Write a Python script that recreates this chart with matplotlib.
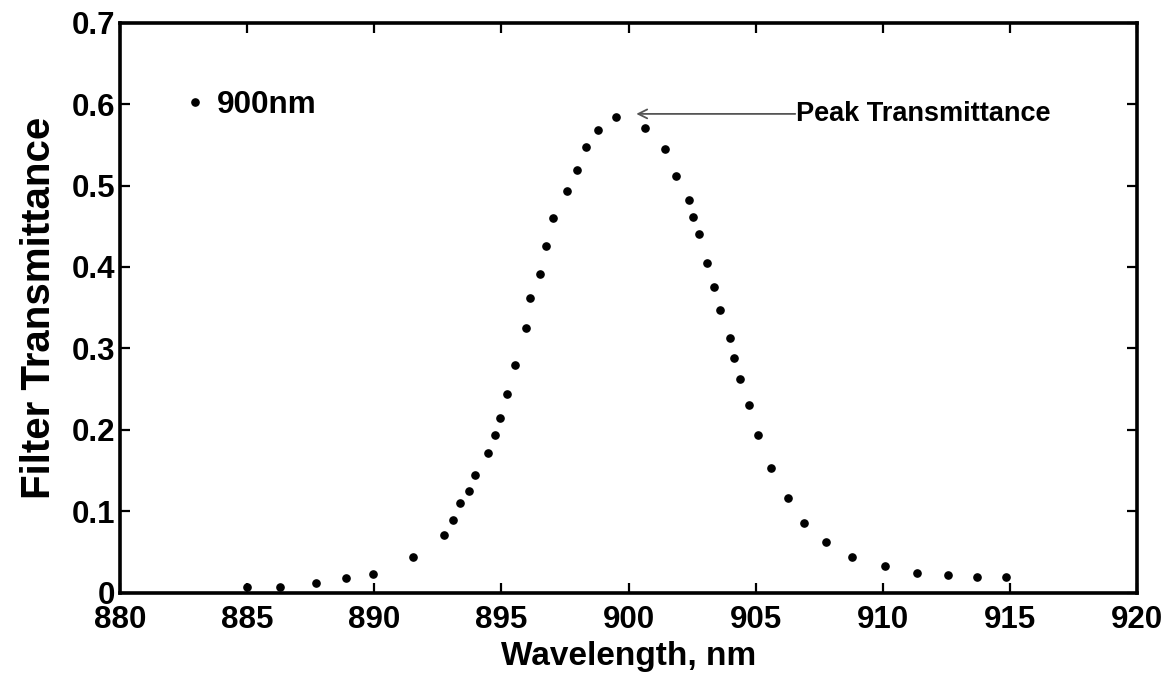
import matplotlib
matplotlib.use("Agg")
import matplotlib.pyplot as plt

plt.rcParams['font.family'] = ['Liberation Sans', 'DejaVu Sans']
plt.rcParams['font.weight'] = 'bold'

wavelength = [885.00, 886.31, 887.71, 888.87, 889.94, 891.51, 892.72, 893.09,
              893.36, 893.72, 893.95, 894.46, 894.76, 894.94, 895.23, 895.53,
              895.98, 896.11, 896.53, 896.76, 897.04, 897.56, 897.98, 898.33,
              898.79, 899.50, 900.65, 901.42, 901.88, 902.37, 902.52, 902.78,
              903.09, 903.37, 903.59, 903.99, 904.15, 904.38, 904.73, 905.09,
              905.58, 906.26, 906.91, 907.76, 908.79, 910.09, 911.32, 912.54,
              913.68, 914.84]
transmittance = [0.0066, 0.0074, 0.0115, 0.0184, 0.0230, 0.0435, 0.0709, 0.0889,
                 0.1098, 0.1253, 0.1442, 0.1712, 0.1940, 0.2145, 0.2436, 0.2793,
                 0.3247, 0.3615, 0.3914, 0.4254, 0.4598, 0.4937, 0.5187, 0.5477,
                 0.5682, 0.5842, 0.5705, 0.5450, 0.5119, 0.4820, 0.4615, 0.4410,
                 0.4045, 0.3754, 0.3475, 0.3130, 0.2878, 0.2630, 0.2300, 0.1938,
                 0.1531, 0.1164, 0.0851, 0.0623, 0.0440, 0.0326, 0.0236, 0.0212,
                 0.0191, 0.0191]
series_label = "900nm"
x_ticks = [880, 885, 890, 895, 900, 905, 910, 915, 920]
y_ticks = [0, 0.1, 0.2, 0.3, 0.4, 0.5, 0.6, 0.7]
y_tick_labels = ["0", "0.1", "0.2", "0.3", "0.4", "0.5", "0.6", "0.7"]
peak_xy = (900.3, 0.588)
peak_text = "Peak Transmittance"
peak_text_xy = (906.55, 0.588)

fig = plt.figure(figsize=(11.74, 6.77), dpi=100)
ax = fig.add_axes([120/1174, 1 - 592.7/677, (1137.3-120)/1174, (592.7-22.7)/677])

ax.plot(wavelength, transmittance, linestyle='none', marker='o',
        markersize=5.2, color='black', label=series_label)

ax.set_xlim(880, 920)
ax.set_ylim(0, 0.7)
ax.set_xticks(x_ticks)
ax.set_xticklabels([str(t) for t in x_ticks])
ax.set_yticks(y_ticks)
ax.set_yticklabels(y_tick_labels)

for s in ax.spines.values():
    s.set_linewidth(2.6)
ax.tick_params(direction='in', length=7, width=1.6, top=True, right=True,
               labelsize=22.5)
ax.tick_params(axis='x', pad=9)
ax.tick_params(axis='y', pad=3.5)
for lab in ax.get_xticklabels() + ax.get_yticklabels():
    lab.set_fontweight('bold')

ax.set_xlabel("Wavelength, nm", fontsize=24, fontweight='bold', labelpad=4)
ax.set_ylabel("Filter Transmittance", fontsize=29, fontweight='bold', labelpad=10)

ax.annotate("", xy=peak_xy, xytext=peak_text_xy,
            arrowprops=dict(arrowstyle='->', color='#555555', lw=1.3,
                            shrinkA=0, shrinkB=0, mutation_scale=16))
ax.text(peak_text_xy[0] + 0.02, peak_text_xy[1], peak_text, fontsize=19.5,
        fontweight='bold', va='center', ha='left')

leg = ax.legend(loc='center left', bbox_to_anchor=(0.0675, 0.855),
                frameon=False, handlelength=0.4,
                handletextpad=0.49, borderpad=0, borderaxespad=0,
                prop={'weight': 'bold', 'size': 22.7})

fig.savefig("out.png", dpi=100)
